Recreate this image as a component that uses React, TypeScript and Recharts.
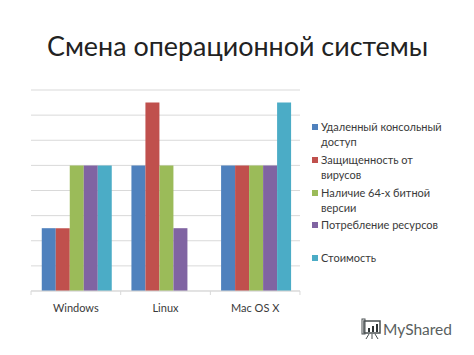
import { BarChart, Bar, XAxis, YAxis, CartesianGrid, Legend } from 'recharts'

const categories = ['Windows', 'Linux', 'Mac OS X']
const remoteAccess = [2.5, 5, 5]
const virusSafety = [2.5, 7.5, 5]
const has64bit = [5, 5, 5]
const resourceUse = [5, 2.5, 5]
const price = [5, 0, 7.5]
const yTicks = [0, 1, 2, 3, 4, 5, 6, 7, 8]

const seriesNames = [
  'Удаленный консольный доступ',
  'Защищенность от вирусов',
  'Наличие 64-х битной версии',
  'Потребление ресурсов',
  'Стоимость',
]
const seriesColors = ['#4f81bd', '#c0504d', '#9bbb59', '#8064a2', '#4bacc6']

const chartData = categories.map((name, i) => ({
  name,
  s0: remoteAccess[i],
  s1: virusSafety[i],
  s2: has64bit[i],
  s3: resourceUse[i],
  s4: price[i],
}))

const GRID = '#d9d9d9'
const FONT = 'Lato, "Open Sans", sans-serif'

function CategoryTick({ x, y, payload, index }: any) {
  const half = 44.8
  return (
    <g>
      <line x1={x - half} x2={x - half} y1={y - 8} y2={y - 4} stroke={GRID} />
      {index === categories.length - 1 && (
        <line x1={x + half} x2={x + half} y1={y - 8} y2={y - 4} stroke={GRID} />
      )}
      <text x={x} y={y + 13} textAnchor="middle" fontSize={11} fontFamily={FONT} fill="#3a3a3a">
        {payload.value}
      </text>
    </g>
  )
}

// legend rows have uneven gaps in the original, so each entry sets its own top
const legendTops = [120, 153, 186, 218, 251]

// zero height so the chart does not reserve room for the legend under the plot
function ChartLegend() {
  return (
    <div style={{ position: 'relative', width: 160, height: 0, fontFamily: FONT, fontSize: 11, lineHeight: '14.5px', color: '#3a3a3a' }}>
      {seriesNames.map((name, i) => (
        <div key={name} style={{ position: 'absolute', left: 0, top: legendTops[i] - 120, width: 128, paddingLeft: 9 }}>
          <span style={{ position: 'absolute', left: 0, top: 4, width: 6, height: 6, background: seriesColors[i] }} />
          {name}
        </div>
      ))}
    </div>
  )
}

export default function App() {
  return (
    <div style={{ position: 'fixed', left: 0, top: 0, width: 474, height: 355, background: '#fff', overflow: 'hidden' }}>
      <div style={{ position: 'absolute', left: 47, top: 28, fontFamily: FONT, fontSize: 26.9, lineHeight: '36px', color: '#222', whiteSpace: 'nowrap' }}>
        Смена операционной системы
      </div>
      <BarChart
        width={474}
        height={355}
        data={chartData}
        margin={{ top: 90, right: 174, bottom: 34, left: 31 }}
        barCategoryGap="12%"
        barGap={0}
      >
        <CartesianGrid vertical={false} stroke={GRID} strokeWidth={1} />
        <XAxis dataKey="name" height={30} axisLine={{ stroke: GRID }} tickLine={false} tick={<CategoryTick />} interval={0} />
        <YAxis width={0} domain={[0, 8]} ticks={yTicks} tick={() => <g />} tickLine={false} axisLine={{ stroke: GRID }} />
        {seriesNames.map((name, i) => (
          <Bar key={name} dataKey={`s${i}`} name={name} fill={seriesColors[i]} isAnimationActive={false} />
        ))}
        <Legend content={<ChartLegend />} wrapperStyle={{ left: 312, top: 120, width: 160, bottom: 'auto' }} />
      </BarChart>
      <div style={{ position: 'absolute', left: 361, top: 318, display: 'flex', alignItems: 'center', fontFamily: FONT, fontSize: 15.5, color: '#5a5f60' }}>
        <svg width={20} height={22} style={{ marginRight: 2 }}>
          <rect x={3} y={3} width={16} height={12} fill="none" stroke="#4a5052" strokeWidth={1.5} />
          <rect x={1} y={1} width={3} height={15} fill="none" stroke="#4a5052" />
          <rect x={7} y={10} width={2} height={4} fill="#2f3536" />
          <rect x={11} y={8} width={2} height={6} fill="#2f3536" />
          <rect x={15} y={6} width={2} height={8} fill="#2f3536" />
          <path d="M8 16 L5 21 M11 16 L11 21 M14 16 L17 21" stroke="#4a5052" />
        </svg>
        MyShared
      </div>
    </div>
  )
}
